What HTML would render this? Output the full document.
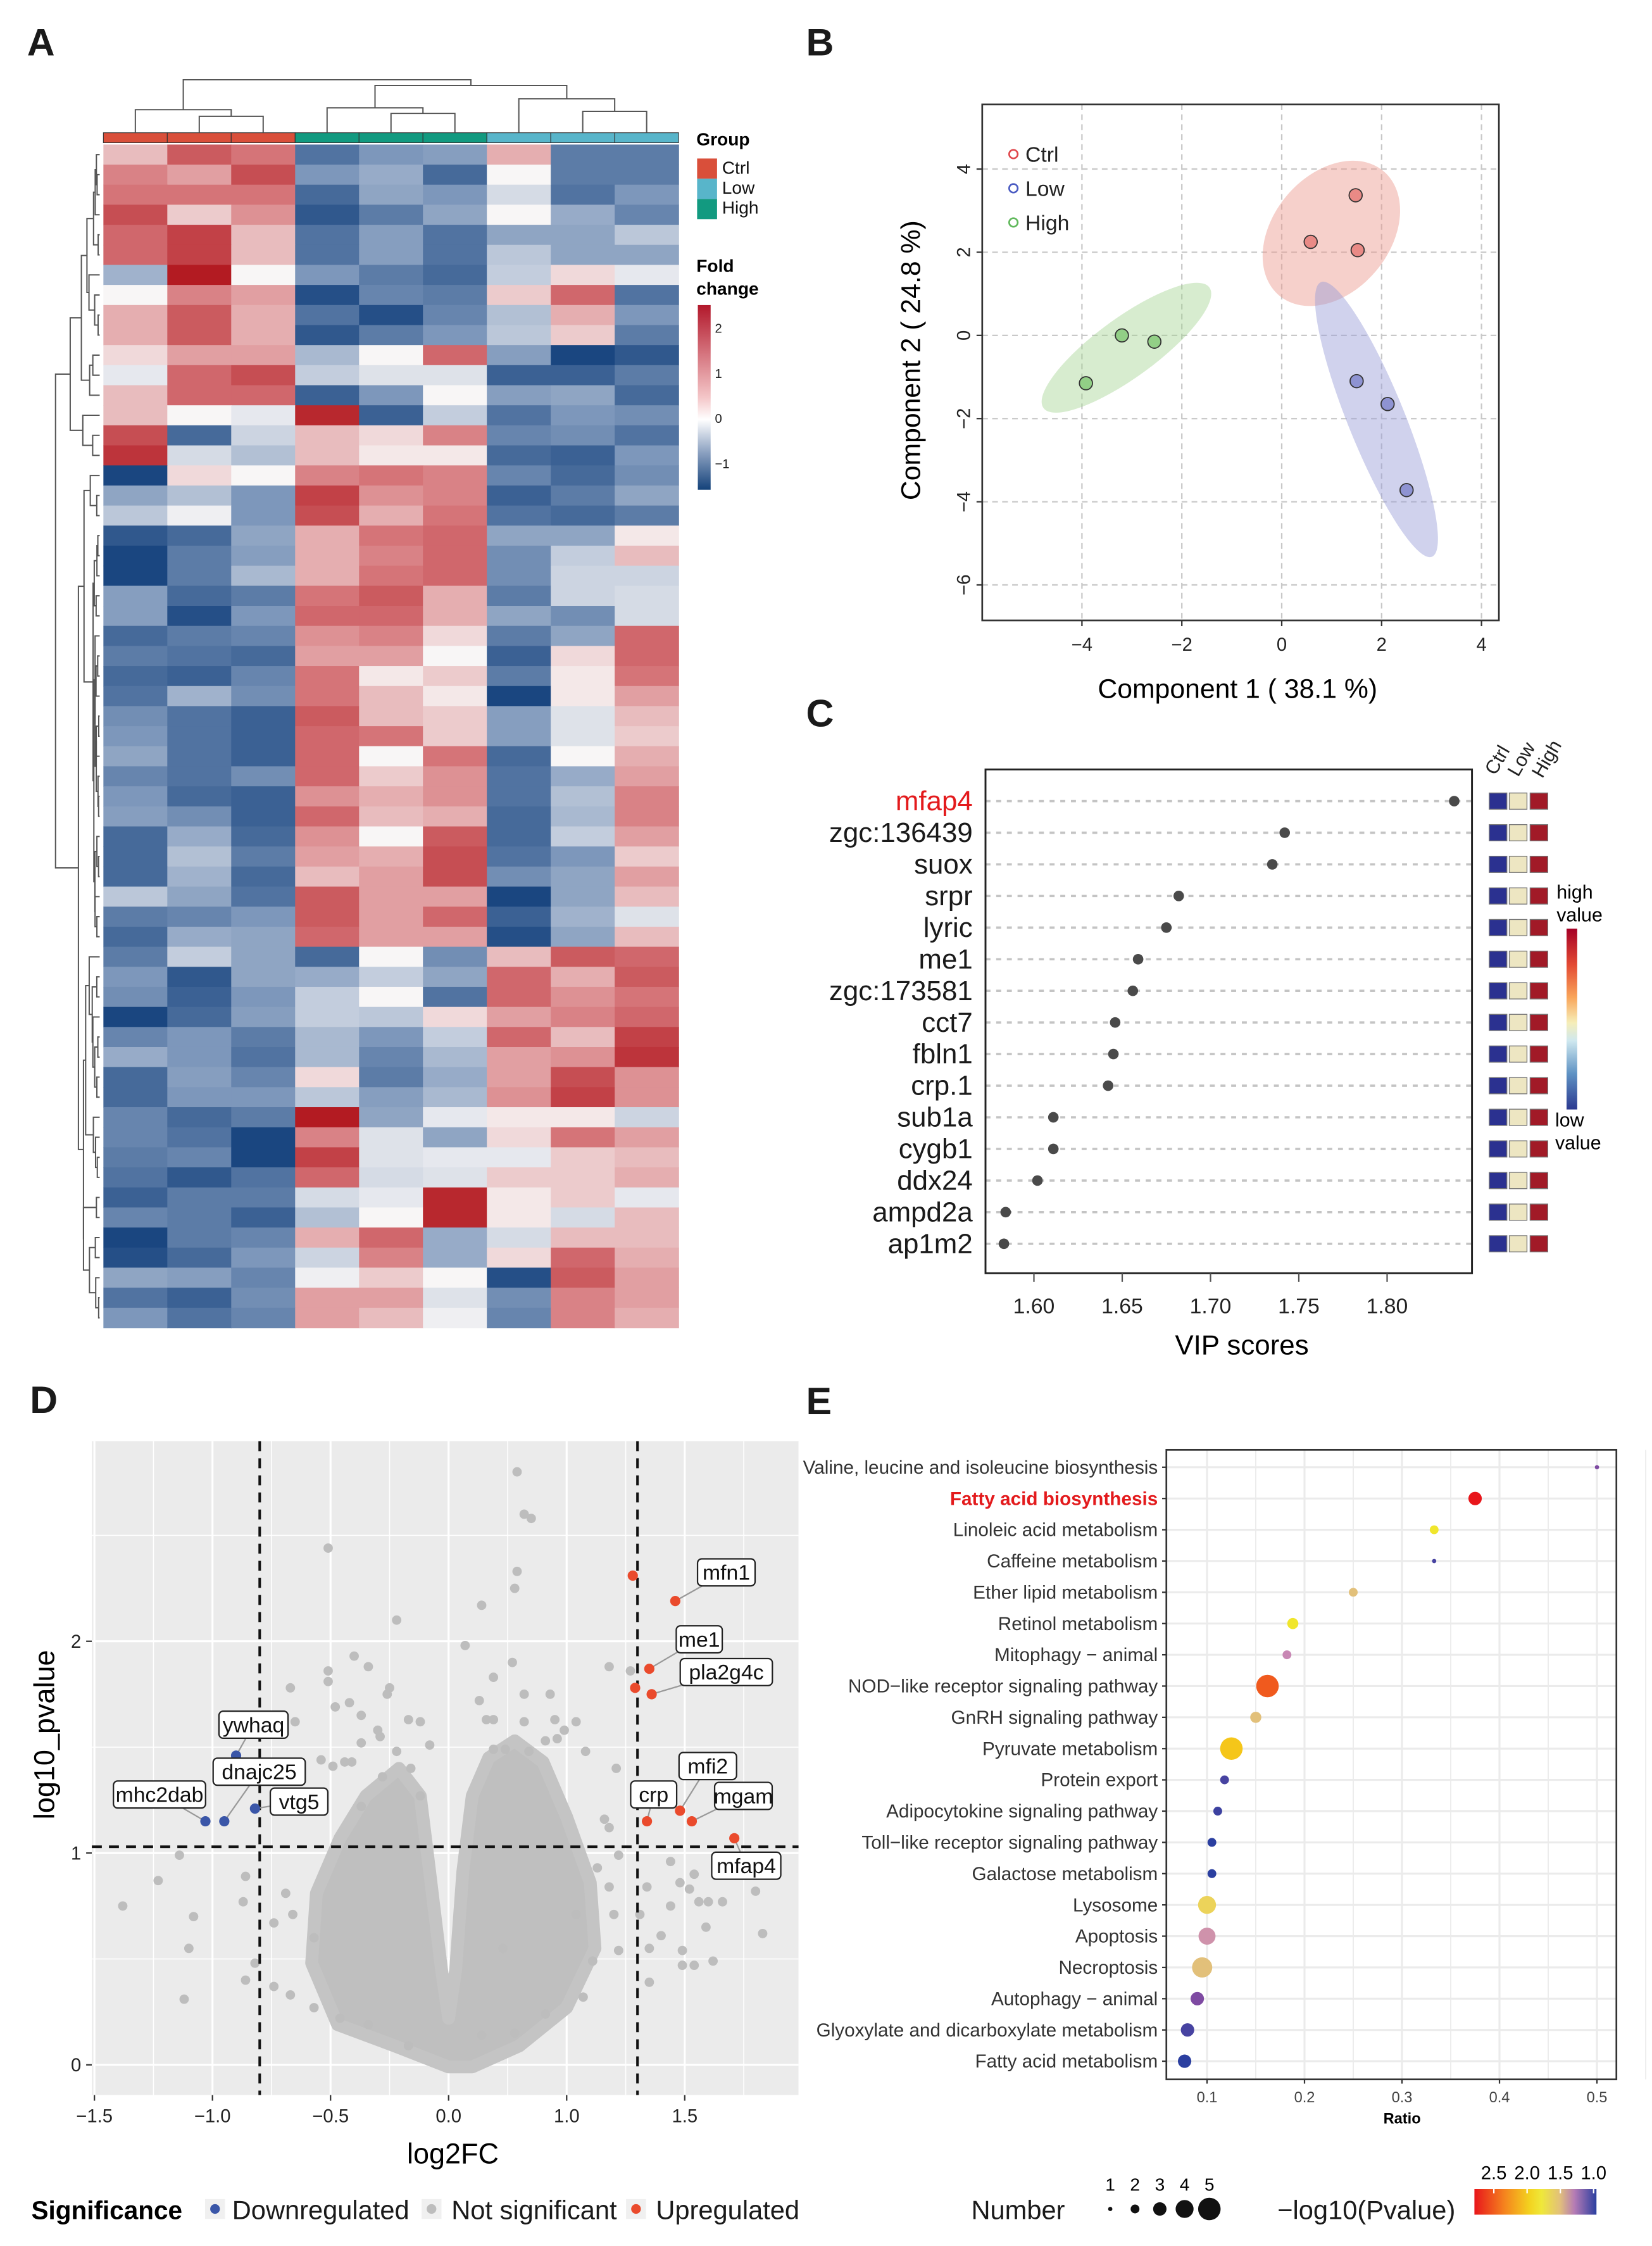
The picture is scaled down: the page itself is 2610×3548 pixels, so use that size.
<!DOCTYPE html>
<html><head><meta charset="utf-8">
<style>
html,body{margin:0;padding:0;background:#fff;}
svg{display:block;font-family:"Liberation Sans",Arial,sans-serif;}
</style></head>
<body>
<svg id="fig" xmlns="http://www.w3.org/2000/svg" width="2610" height="3548" viewBox="0 0 1160 1577" preserveAspectRatio="none">
<defs>
<linearGradient id="fcGrad" x1="0" y1="0" x2="0" y2="1">
<stop offset="0" stop-color="#b2182b"/><stop offset="0.5" stop-color="#f4c6c8"/><stop offset="0.62" stop-color="#ffffff"/><stop offset="0.8" stop-color="#8aa0c0"/><stop offset="1" stop-color="#14427a"/>
</linearGradient>
<linearGradient id="vipGrad" x1="0" y1="0" x2="0" y2="1">
<stop offset="0" stop-color="#a50026"/><stop offset="0.2" stop-color="#e34a33"/><stop offset="0.38" stop-color="#f9a55a"/><stop offset="0.52" stop-color="#f6eeb8"/><stop offset="0.62" stop-color="#cfe8ef"/><stop offset="0.8" stop-color="#5f93c4"/><stop offset="1" stop-color="#2b3990"/>
</linearGradient>
<linearGradient id="pGrad" x1="0" y1="0" x2="1" y2="0">
<stop offset="0" stop-color="#e8161b"/><stop offset="0.25" stop-color="#f5851e"/><stop offset="0.45" stop-color="#f3d21f"/><stop offset="0.55" stop-color="#efe83a"/><stop offset="0.7" stop-color="#e2c07a"/><stop offset="0.82" stop-color="#b57bb5"/><stop offset="1" stop-color="#2b3fa0"/>
</linearGradient>
</defs>
<g id="panelA"></g>
<g id="panelB"></g>
<g id="panelC"></g>
<g id="panelD"></g>
<g id="panelE"></g>
</svg>
<script>
// ---------------- DATA ----------------
const heatGroups = ["Ctrl","Ctrl","Ctrl","High","High","High","Low","Low","Low"];
const heatValues = [
[1.3,2.0,1.8,-0.9,-0.5,-0.4,1.4,-0.8,-0.8],
[1.7,1.5,2.1,-0.5,-0.2,-1.0,0.9,-0.8,-0.8],
[1.8,1.8,1.8,-1.0,-0.3,-0.5,0.5,-0.9,-0.5],
[2.1,1.2,1.6,-1.2,-0.8,-0.3,0.9,-0.2,-0.7],
[1.9,2.2,1.3,-0.9,-0.4,-0.9,-0.3,-0.3,0.2],
[1.9,2.2,1.3,-0.9,-0.4,-0.9,0.2,-0.3,-0.3],
[-0.1,2.5,0.9,-0.5,-0.8,-1.0,0.3,1.1,0.7],
[0.9,1.7,1.5,-1.3,-0.7,-0.8,1.2,1.9,-0.9],
[1.4,2.0,1.4,-0.9,-1.3,-0.7,0.1,1.4,-0.5],
[1.4,2.0,1.4,-1.2,-0.8,-0.5,0.2,1.2,-0.8],
[1.1,1.5,1.5,0.0,0.9,1.9,-0.4,-1.4,-1.2],
[0.7,1.9,2.1,0.3,0.6,0.6,-1.1,-1.1,-0.8],
[1.3,1.9,1.9,-1.1,-0.5,0.9,-0.4,-0.3,-1.0],
[1.3,0.9,0.7,2.4,-1.1,0.3,-0.9,-0.5,-0.6],
[2.1,-1.0,0.4,1.3,1.1,1.7,-0.7,-0.6,-0.9],
[2.3,0.5,0.1,1.3,1.0,1.0,-1.0,-1.1,-0.5],
[-1.4,1.1,0.9,1.7,1.8,1.7,-0.7,-1.0,-0.6],
[-0.3,0.1,-0.5,2.2,1.6,1.7,-1.1,-0.8,-0.3],
[0.2,0.8,-0.5,2.1,1.4,1.8,-0.9,-1.0,-0.8],
[-1.2,-1.0,-0.3,1.4,1.8,1.9,-0.3,-0.3,1.0],
[-1.4,-0.8,-0.4,1.4,1.7,1.9,-0.6,0.3,1.3],
[-1.4,-0.8,0.0,1.4,1.8,1.9,-0.6,0.4,0.4],
[-0.4,-1.0,-0.8,1.8,2.0,1.4,-0.8,0.4,0.5],
[-0.4,-1.3,-0.5,1.9,1.9,1.4,-0.3,-0.6,0.5],
[-1.0,-0.8,-0.7,1.6,1.7,1.1,-0.8,-0.3,1.9],
[-0.8,-0.9,-1.0,1.5,1.5,0.9,-1.1,1.1,1.9],
[-1.0,-1.1,-0.7,1.8,1.0,1.2,-0.8,1.0,1.8],
[-0.9,-0.1,-0.6,1.8,1.3,1.0,-1.5,1.0,1.5],
[-0.6,-0.9,-1.1,2.0,1.3,1.2,-0.4,0.6,1.3],
[-0.5,-0.9,-1.1,1.9,1.8,1.2,-0.4,0.6,1.2],
[-0.3,-0.9,-1.1,1.9,0.9,1.8,-1.0,0.9,1.4],
[-0.7,-0.9,-0.6,1.9,1.2,1.6,-0.9,-0.2,1.5],
[-0.5,-1.0,-1.1,1.6,1.4,1.6,-0.9,0.1,1.7],
[-0.4,-0.6,-1.1,1.9,1.3,1.4,-1.0,0.0,1.7],
[-1.0,-0.2,-1.0,1.6,0.9,2.0,-1.0,0.3,1.5],
[-1.0,0.1,-0.8,1.5,1.4,2.1,-0.9,-0.5,1.2],
[-1.0,-0.1,-1.0,1.3,1.5,2.1,-0.6,-0.3,1.5],
[0.2,-0.3,-0.9,2.0,1.5,1.5,-1.5,-0.3,1.3],
[-0.8,-0.7,-0.5,2.0,1.5,1.9,-1.1,-0.1,0.6],
[-1.0,-0.2,-0.3,1.9,1.5,1.5,-1.3,-0.3,1.3],
[-0.8,0.3,-0.3,-1.0,0.9,-0.6,1.3,2.0,1.9],
[-0.5,-1.2,-0.3,-0.2,0.3,-0.3,1.9,1.4,2.0],
[-0.6,-1.1,-0.5,0.3,0.9,-0.9,1.9,1.6,1.8],
[-1.4,-1.0,-0.4,0.3,0.2,1.1,1.5,1.7,1.9],
[-0.7,-0.5,-0.8,0.0,-0.5,0.3,1.9,1.3,2.2],
[-0.2,-0.5,-0.9,0.0,-0.7,0.0,1.5,1.6,2.3],
[-1.0,-0.4,-0.7,1.1,-0.8,-0.2,1.5,2.1,1.6],
[-1.0,-0.5,-0.5,0.2,-0.4,0.0,1.6,2.2,1.6],
[-0.7,-1.0,-0.8,2.5,-0.3,0.7,1.0,1.0,0.4],
[-0.7,-0.9,-1.4,1.7,0.6,-0.3,1.1,1.8,1.5],
[-0.8,-0.7,-1.4,2.2,0.6,0.7,0.7,1.2,1.3],
[-0.9,-1.2,-0.9,1.9,0.5,0.6,1.2,1.2,1.4],
[-1.1,-0.8,-0.8,0.5,0.7,2.4,1.0,1.2,0.7],
[-0.7,-0.8,-1.1,0.1,0.9,2.4,1.0,0.5,1.3],
[-1.4,-0.8,-0.7,1.4,1.9,-0.2,0.5,1.3,1.3],
[-1.3,-1.0,-0.5,0.4,1.7,-0.2,1.1,1.9,1.4],
[-0.3,-0.4,-0.7,0.8,1.2,0.9,-1.3,2.0,1.5],
[-0.9,-1.1,-0.6,1.5,1.5,0.6,-0.6,1.7,1.5],
[-0.5,-0.9,-0.7,1.5,1.3,0.8,-0.7,1.7,1.4]
];
const fcTickLabels = ["2","1","0","\u22121"];
const fcTickValues = [2,1,0,-1];

const pcaGroups = ["Ctrl","Ctrl","Ctrl","Low","Low","Low","High","High","High"];
const pcaX = [1.48,0.58,1.52,1.50,2.12,2.50,-3.20,-2.55,-3.92];
const pcaY = [3.37,2.25,2.05,-1.10,-1.65,-3.72,0.00,-0.15,-1.15];
const pcaXTicks = [-4,-2,0,2,4];
const pcaYTicks = [4,2,0,-2,-4,-6];

const vipGenes = ["mfap4","zgc:136439","suox","srpr","lyric","me1","zgc:173581","cct7","fbln1","crp.1","sub1a","cygb1","ddx24","ampd2a","ap1m2"];
const vipScores = [1.838,1.742,1.735,1.682,1.675,1.659,1.656,1.646,1.645,1.642,1.611,1.611,1.602,1.584,1.583];
const vipTicks = [1.60,1.65,1.70,1.75,1.80];
const vipTickLabels = ["1.60","1.65","1.70","1.75","1.80"];

const volUpX = [0.78,0.96,0.85,0.79,0.86,0.98,0.84,1.03,1.21];
const volUpY = [2.31,2.19,1.87,1.78,1.75,1.20,1.15,1.15,1.07];
const volUpLabels = ["","mfn1","me1","","pla2g4c","mfi2","crp","mgam","mfap4"];
const volDownX = [-0.90,-0.95,-1.03,-0.82];
const volDownY = [1.46,1.15,1.15,1.21];
const volDownLabels = ["ywhaq","dnajc25","mhc2dab","vtg5"];
const volNsX = [0.29,0.32,0.35,-0.51,0.29,0.28,0.14,-0.22,0.07,0.27,0.19,0.68,0.77,-0.40,-0.34,-0.51,-0.51,-0.67,-0.25,-0.26,0.32,0.43,-0.42,-0.48,0.13,-0.65,-0.37,-0.17,-0.12,0.16,0.19,0.32,0.45,0.54,0.49,-0.30,-0.29,-0.37,-0.08,0.41,0.46,-0.54,-0.49,-0.44,-0.41,-0.22,-0.16,0.19,0.24,0.34,0.58,0.71,-0.28,-0.12,-0.37,0.66,0.68,-1.14,-1.23,-1.38,-1.08,-1.10,-1.12,-0.87,-0.86,-0.69,-0.66,-0.74,-0.57,-0.82,-0.86,-0.74,-0.67,-0.57,-0.46,0.85,0.90,0.85,0.94,0.98,1.04,1.02,1.06,1.10,1.16,1.30,1.33,1.09,0.94,0.99,0.99,1.04,1.12,0.84,0.81,0.72,0.63,0.68,0.70,0.72,0.61,0.57,0.41,0.28,0.14,-0.34,-0.17,0.23,0.54];
const volNsY = [2.80,2.60,2.58,2.44,2.33,2.25,2.17,2.10,1.98,1.90,1.83,1.88,1.86,1.93,1.88,1.86,1.81,1.78,1.78,1.75,1.75,1.75,1.71,1.69,1.72,1.62,1.65,1.63,1.62,1.63,1.63,1.62,1.63,1.62,1.58,1.58,1.55,1.52,1.51,1.53,1.54,1.44,1.41,1.43,1.43,1.48,1.40,1.49,1.49,1.48,1.48,1.40,1.36,1.27,1.22,1.16,1.12,0.99,0.87,0.75,0.70,0.55,0.31,0.77,0.89,0.81,0.71,0.67,0.60,0.48,0.40,0.37,0.33,0.27,0.22,0.39,0.61,0.55,0.96,0.86,0.90,0.83,0.77,0.77,0.77,0.82,0.62,0.65,0.75,0.54,0.47,0.47,0.49,0.84,0.71,0.99,0.93,0.84,0.71,0.54,0.49,0.32,0.24,0.15,0.14,0.19,0.09,0.55,0.71];
const volCloudX = [0,-0.23,-0.47,-0.58,-0.56,-0.46,-0.35,-0.21,-0.12,-0.08,-0.03,0,0.03,0.06,0.10,0.17,0.28,0.40,0.50,0.60,0.62,0.50,0.30,0.10];
const volCloudY = [-0.01,0.09,0.19,0.48,0.81,1.07,1.27,1.40,1.27,0.91,0.45,0.22,0.45,0.91,1.27,1.45,1.53,1.43,1.17,0.86,0.55,0.27,0.09,-0.01];
const volXTicks = [-1.5,-1.0,-0.5,0,0.5,1.0];
const volXTickLabels = ["\u22121.5","\u22121.0","\u22120.5","0.0","1.0","1.5"];
const volYTicks = [0,1,2];
const volFcCut = [-0.8,0.8];
const volPCut = 1.03;

const keggTerms = ["Valine, leucine and isoleucine biosynthesis","Fatty acid biosynthesis","Linoleic acid metabolism","Caffeine metabolism","Ether lipid metabolism","Retinol metabolism","Mitophagy \u2212 animal","NOD\u2212like receptor signaling pathway","GnRH signaling pathway","Pyruvate metabolism","Protein export","Adipocytokine signaling pathway","Toll\u2212like receptor signaling pathway","Galactose metabolism","Lysosome","Apoptosis","Necroptosis","Autophagy \u2212 animal","Glyoxylate and dicarboxylate metabolism","Fatty acid metabolism"];
const keggRatio = [0.5,0.375,0.333,0.333,0.25,0.188,0.182,0.162,0.15,0.125,0.118,0.111,0.105,0.105,0.1,0.1,0.095,0.09,0.08,0.077];
const keggNumber = [1,3,2,1,2,2.5,2,5,2.5,5,2,2,2,2,4,3.8,4.5,3,3,3];
const keggLogP = [1.15,2.7,1.85,1.05,1.55,1.85,1.3,2.3,1.55,2.0,1.05,1.03,1.0,1.0,1.7,1.35,1.55,1.15,1.05,1.0];
const keggXTicks = [0.1,0.2,0.3,0.4,0.5];
const numLegend = [1,2,3,4,5];
const pLegendTicks = [2.5,2.0,1.5,1.0];

// ---------------- HELPERS ----------------
const NS = "http://www.w3.org/2000/svg";
function mk(parent, tag, attrs, text){
  const el = document.createElementNS(NS, tag);
  for (const k in attrs) el.setAttribute(k, attrs[k]);
  if (text !== undefined) el.textContent = text;
  parent.appendChild(el);
  return el;
}
function lerpColor(stops, v){
  if (v <= stops[0][0]) return stops[0][1];
  if (v >= stops[stops.length-1][0]) return stops[stops.length-1][1];
  for (let i=0;i<stops.length-1;i++){
    const a=stops[i], b=stops[i+1];
    if (v>=a[0] && v<=b[0]){
      const t=(v-a[0])/(b[0]-a[0]);
      const ca=[1,3,5].map(j=>parseInt(a[1].substr(j,2),16));
      const cb=[1,3,5].map(j=>parseInt(b[1].substr(j,2),16));
      return "rgb("+ca.map((c,j)=>Math.round(c+(cb[j]-c)*t)).join(",")+")";
    }
  }
}
function letter(parent, x, y, s){
  const t = mk(parent,"text",{x:x,y:y,"font-size":27,"font-weight":"bold",fill:"#1a1a1a"},s);
  
  
}

// ---------------- PANEL A ----------------
(function(){
  const g = document.getElementById("panelA");
  letter(g, 19, 39, "A");
  const hx0=72.6, hx1=476.5, hy0=101.5, hy1=932.3;
  const nC = heatGroups.length, nR = heatValues.length;
  const cw=(hx1-hx0)/nC, rh=(hy1-hy0)/nR;
  const stops=[[-1.4,"#1a4680"],[-0.5,"#7d97bb"],[0.9,"#f8f6f6"],[1.8,"#d57478"],[2.5,"#b31b22"]];
  const grpColor={Ctrl:"#d94f3a",High:"#129a80",Low:"#58b5ca"};
  const cells = mk(g,"g",{});
  
  
  heatValues.forEach((row,r)=>{
    row.forEach((v,c)=>{
      const el = mk(cells,"rect",{x:hx0+c*cw,y:hy0+r*rh,width:cw+0.3,height:rh+0.3,fill:lerpColor(stops,v)});
      
      
    });
  });
  heatGroups.forEach((gr,c)=>{
    const el = mk(g,"rect",{x:hx0+c*cw,y:93.2,width:cw,height:7,fill:grpColor[gr],stroke:"#333","stroke-width":0.5});
    
    
  });
  const cx = i => hx0+(i+0.5)*cw;
  const td = mk(g,"g",{stroke:"#555","stroke-width":0.9,fill:"none"});
  
  
  function link(x1,y1,x2,y2,h){ mk(td,"path",{d:`M${x1},${y1}V${h}H${x2}V${y2}`}); }
  const leafY=93;
  link(cx(1),leafY,cx(2),leafY,81.7);
  link(cx(0),leafY,(cx(1)+cx(2))/2,81.7,77);
  link(cx(4),leafY,cx(5),leafY,79.6);
  link(cx(3),leafY,(cx(4)+cx(5))/2,79.6,75.7);
  link(cx(7),leafY,cx(8),leafY,78.2);
  link(cx(6),leafY,(cx(7)+cx(8))/2,78.2,69.4);
  const hMid=(cx(3)+(cx(4)+cx(5))/2)/2, lMid=(cx(6)+(cx(7)+cx(8))/2)/2;
  link(hMid,75.7,lMid,69.4,60);
  const cMid=(cx(0)+(cx(1)+cx(2))/2)/2;
  link(cMid,77,(hMid+lMid)/2,60,56);
  let clusters = heatValues.map((row,i)=>({members:[i],y:hy0+(i+0.5)*rh,h:0}));
  function dist(a,b){
    let s=0,n=0;
    a.members.forEach(i=>b.members.forEach(j=>{let d=0;for(let k=0;k<nC;k++){const t=heatValues[i][k]-heatValues[j][k];d+=t*t;}s+=Math.sqrt(d);n++;}));
    return s/n;
  }
  const merges=[];
  while(clusters.length>1){
    let best=0,bd=1e9;
    for(let i=0;i<clusters.length-1;i++){const d=dist(clusters[i],clusters[i+1]);if(d<bd){bd=d;best=i;}}
    const a=clusters[best],b=clusters[best+1];
    const h=Math.max(bd,a.h,b.h)+0.001;
    const m={members:a.members.concat(b.members),y:(a.y+b.y)/2,h:h,a:a,b:b};
    merges.push(m);
    clusters.splice(best,2,m);
  }
  const hmax=clusters[0].h;
  const hxp = h => 70 - Math.pow(h/hmax,1.6)*31;
  const ld = mk(g,"g",{stroke:"#555","stroke-width":0.9,fill:"none"});
  
  
  merges.forEach(m=>{
    const x=hxp(m.h);
    mk(ld,"path",{d:`M${hxp(m.a.h)},${m.a.y}H${x}V${m.b.y}H${hxp(m.b.h)}`});
  });
  const lg = mk(g,"g",{});
  
  
  mk(lg,"text",{x:489,y:102,"font-size":12.5,"font-weight":"bold"},"Group");
  [["Ctrl","#d94f3a"],["Low","#58b5ca"],["High","#129a80"]].forEach((e,i)=>{
    const r=mk(lg,"rect",{x:489.5,y:111.3+i*14.2,width:14,height:14.2,fill:e[1]});
    
    
    mk(lg,"text",{x:507,y:122+i*14,"font-size":12.5,fill:"#111"},e[0]);
  });
  mk(lg,"text",{x:489,y:191,"font-size":12.5,"font-weight":"bold"},"Fold");
  mk(lg,"text",{x:489,y:207,"font-size":12.5,"font-weight":"bold"},"change");
  const cb=mk(lg,"rect",{x:490,y:214.2,width:9,height:129.7,fill:"url(#fcGrad)"});
  
  
  fcTickValues.forEach((v,i)=>{
    mk(lg,"text",{x:502,y:294-31.7*v+3,"font-size":9,fill:"#222"},fcTickLabels[i]);
  });
})();

// ---------------- PANEL B ----------------
(function(){
  const g=document.getElementById("panelB");
  letter(g,566,39,"B");
  const bx0=689.7,bx1=1052.5,by0=73.3,by1=435.6;
  const sx=v=>900+v*35.07, sy=v=>235.5-v*29.2;
  const grid=mk(g,"g",{stroke:"#c8c8c8","stroke-width":1,"stroke-dasharray":"4,3"});
  
  
  pcaXTicks.forEach(v=>mk(grid,"line",{x1:sx(v),x2:sx(v),y1:by0,y2:by1}));
  pcaYTicks.forEach(v=>mk(grid,"line",{x1:bx0,x2:bx1,y1:sy(v),y2:sy(v)}));
  const ellFill={Ctrl:"rgba(236,150,140,0.45)",Low:"rgba(150,155,215,0.45)",High:"rgba(160,210,140,0.42)"};
  const ellSize={Ctrl:[57,41,-50],Low:[104,20,68],High:[72,21,-36]};
  ["Ctrl","Low","High"].forEach(gr=>{
    let mx=0,my=0,n=0;
    pcaGroups.forEach((p,i)=>{if(p===gr){mx+=pcaX[i];my+=pcaY[i];n++;}});
    mx/=n;my/=n;
    let ccx=sx(mx),ccy=sy(my);
    if(gr==="Ctrl"){ccx+= -7; ccy+=3;}
    if(gr==="Low"){ccx+= -5; ccy+= -4;}
    if(gr==="High"){ccx+= 4; ccy+= -4;}
    const s=ellSize[gr];
    const e=mk(g,"ellipse",{cx:ccx,cy:ccy,rx:s[0],ry:s[1],fill:ellFill[gr],transform:`rotate(${s[2]},${ccx},${ccy})`});
    
    
  });
  const ptFill={Ctrl:"#e98a86",Low:"#8e93d2",High:"#92cf86"};
  pcaX.forEach((x,i)=>{
    const c=mk(g,"circle",{cx:sx(x),cy:sy(pcaY[i]),r:4.6,fill:ptFill[pcaGroups[i]],stroke:"#333","stroke-width":0.8});
    
    
  });
  mk(g,"rect",{x:bx0,y:by0,width:bx1-bx0,height:by1-by0,fill:"none",stroke:"#333","stroke-width":1.2});
  pcaXTicks.forEach(v=>{
    mk(g,"line",{x1:sx(v),x2:sx(v),y1:by1,y2:by1+4,stroke:"#333"});
    mk(g,"text",{x:sx(v),y:457,"font-size":13,"text-anchor":"middle",fill:"#222"},v<0?"\u2212"+(-v):String(v));
  });
  pcaYTicks.forEach(v=>{
    mk(g,"line",{x1:bx0-4,x2:bx0,y1:sy(v),y2:sy(v),stroke:"#333"});
    mk(g,"text",{x:0,y:0,"font-size":13,"text-anchor":"middle",fill:"#222",transform:`translate(681,${sy(v)}) rotate(-90)`},v<0?"\u2212"+(-v):String(v));
  });
  const xt=mk(g,"text",{x:869,y:490,"font-size":19,"text-anchor":"middle"},"Component 1 ( 38.1 %)");
  
  
  const yt=mk(g,"text",{x:0,y:0,"font-size":19,"text-anchor":"middle",transform:"translate(646,253) rotate(-90)"},"Component 2 ( 24.8 %)");
  
  
  [["Ctrl","#e0474c"],["Low","#4a5bc2"],["High","#5fb85a"]].forEach((e,i)=>{
    const c=mk(g,"circle",{cx:711.6,cy:108.2+i*24,r:3,fill:"none",stroke:e[1],"stroke-width":1.2});
    
    
    mk(g,"text",{x:720,y:113.5+i*24,"font-size":15,fill:"#222"},e[0]);
  });
})();

// ---------------- PANEL C ----------------
(function(){
  const g=document.getElementById("panelC");
  letter(g,566,510,"C");
  const bx0=692,bx1=1033.6,by0=540.3,by1=894;
  const sx=v=>726+(v-1.6)*1240, ry=i=>562.5+i*22.2;
  vipGenes.forEach((gn,i)=>{
    mk(g,"line",{x1:bx0,x2:bx1,y1:ry(i),y2:ry(i),stroke:"#c4c4c4","stroke-width":1.6,"stroke-dasharray":"3.5,4"});
    const t=mk(g,"text",{x:683,y:ry(i)+6.5,"font-size":19.5,"text-anchor":"end",fill:i===0?"#e31a1c":"#1a1a1a"},gn);
    
    
    const c=mk(g,"circle",{cx:sx(vipScores[i]),cy:ry(i),r:3.7,fill:"#4a4a4a"});
    
    
    [["#2b3190",1045.7],["#ede6c2",1059.8],["#a11a27",1074.4]].forEach(s=>{
      const r=mk(g,"rect",{x:s[1],y:ry(i)-5.7,width:12.4,height:11.4,fill:s[0],stroke:"#777","stroke-width":0.6});
      
      
    });
  });
  mk(g,"rect",{x:bx0,y:by0,width:bx1-bx0,height:by1-by0,fill:"none",stroke:"#222","stroke-width":1.3});
  vipTicks.forEach((v,i)=>{
    mk(g,"line",{x1:sx(v),x2:sx(v),y1:by1,y2:by1+6,stroke:"#555"});
    mk(g,"text",{x:sx(v),y:922,"font-size":15,"text-anchor":"middle",fill:"#222"},vipTickLabels[i]);
  });
  const xt=mk(g,"text",{x:872,y:951,"font-size":19.5,"text-anchor":"middle"},"VIP scores");
  
  
  [["Ctrl",1050,545],["Low",1066,546],["High",1083,547]].forEach(e=>{
    mk(g,"text",{x:0,y:0,"font-size":13.5,fill:"#222",transform:`translate(${e[1]},${e[2]}) rotate(-60)`},e[0]);
  });
  mk(g,"text",{x:1093,y:631,"font-size":13.5},"high");
  mk(g,"text",{x:1093,y:647,"font-size":13.5},"value");
  const cb=mk(g,"rect",{x:1100,y:652,width:7.5,height:127,fill:"url(#vipGrad)"});
  
  
  mk(g,"text",{x:1092,y:791,"font-size":13.5},"low");
  mk(g,"text",{x:1092,y:807,"font-size":13.5},"value");
})();

// ---------------- PANEL D ----------------
(function(){
  const g=document.getElementById("panelD");
  letter(g,21,992,"D");
  const bx0=64.5,bx1=560.7,by0=1011.9,by1=1471;
  const sx=v=>315+v*165.8, sy=v=>1449.8-v*148.7;
  const bg=mk(g,"rect",{x:bx0,y:by0,width:bx1-bx0,height:by1-by0,fill:"#ebebeb"});
  
  
  for(let v=-1.75;v<=1.3;v+=0.25){
    const major=Math.abs(v*2-Math.round(v*2))<1e-6;
    mk(g,"line",{x1:sx(v),x2:sx(v),y1:by0,y2:by1,stroke:"#fff","stroke-width":major?1.4:0.7});
  }
  [-0.5,0,0.5,1,1.5,2,2.5,3].forEach(v=>{
    if(sy(v)<by0||sy(v)>by1)return;
    mk(g,"line",{x1:bx0,x2:bx1,y1:sy(v),y2:sy(v),stroke:"#fff","stroke-width":Number.isInteger(v)?1.4:0.7});
  });
  const pts=volCloudX.map((x,i)=>sx(x)+","+sy(volCloudY[i])).join(" ");
  const cl=mk(g,"polygon",{points:pts,fill:"#bfbfbf",stroke:"#c4c4c4","stroke-width":9,"stroke-linejoin":"round"});
  
  
  volNsX.forEach((x,i)=>{
    const c=mk(g,"circle",{cx:sx(x),cy:sy(volNsY[i]),r:3.3,fill:"#bdbdbd"});
    
    
  });
  const dl=mk(g,"g",{stroke:"#111","stroke-width":1.8,"stroke-dasharray":"7,5"});
  
  
  volFcCut.forEach(v=>mk(dl,"line",{x1:sx(v),x2:sx(v),y1:by0,y2:by1}));
  mk(dl,"line",{x1:bx0,x2:bx1,y1:sy(volPCut),y2:sy(volPCut)});
  const upBox=[[0,0],[510,1104],[491,1151],[0,0],[510,1174],[497,1240],[459,1260],[522,1261],[524,1310]];
  volUpX.forEach((x,i)=>{
    const px=sx(x),py=sy(volUpY[i]);
    if(volUpLabels[i]){
      const b=upBox[i];
      mk(g,"line",{x1:px,y1:py,x2:b[0],y2:b[1],stroke:"#999","stroke-width":1});
    }
    const c=mk(g,"circle",{cx:px,cy:py,r:3.6,fill:"#ea4a2c"});
    
    
  });
  const dnBox=[[178,1211],[182,1244],[112,1260],[210,1265]];
  volDownX.forEach((x,i)=>{
    const px=sx(x),py=sy(volDownY[i]);
    mk(g,"line",{x1:px,y1:py,x2:dnBox[i][0],y2:dnBox[i][1],stroke:"#999","stroke-width":1});
    const c=mk(g,"circle",{cx:px,cy:py,r:3.6,fill:"#3a56a8"});
    
    
  });
  function label(txt,cx,cy){
    const w=txt.length*8.1+8;
    const r=mk(g,"rect",{x:cx-w/2,y:cy-9.5,width:w,height:19,rx:3,fill:"#fff",stroke:"#222","stroke-width":1});
    
    
    mk(g,"text",{x:cx,y:cy+5.3,"font-size":15,"text-anchor":"middle",fill:"#111"},txt);
  }
  volUpLabels.forEach((l,i)=>{if(l)label(l,upBox[i][0],upBox[i][1]);});
  volDownLabels.forEach((l,i)=>label(l,dnBox[i][0],dnBox[i][1]));
  volXTicks.forEach((v,i)=>{
    mk(g,"line",{x1:sx(v),x2:sx(v),y1:by1,y2:by1+4,stroke:"#333"});
    mk(g,"text",{x:sx(v),y:1490,"font-size":13,"text-anchor":"middle",fill:"#222"},volXTickLabels[i]);
  });
  volYTicks.forEach(v=>{
    mk(g,"line",{x1:bx0-4,x2:bx0,y1:sy(v),y2:sy(v),stroke:"#333"});
    mk(g,"text",{x:57,y:sy(v)+4.5,"font-size":13,"text-anchor":"end",fill:"#222"},String(v));
  });
  const xt=mk(g,"text",{x:318,y:1519,"font-size":20,"text-anchor":"middle"},"log2FC");
  
  
  const yt=mk(g,"text",{x:0,y:0,"font-size":20,"text-anchor":"middle",transform:"translate(38,1218) rotate(-90)"},"log10_pvalue");
  
  
  const lg=mk(g,"g",{});
  
  
  mk(lg,"text",{x:22,y:1558,"font-size":18,"font-weight":"bold"},"Significance");
  [["Downregulated","#3a56a8",151,163],["Not significant","#bdbdbd",303,317],["Upregulated","#ea4a2c",446.6,460.6]].forEach(e=>{
    mk(lg,"rect",{x:e[2]-7,y:1544,width:14,height:14,fill:"#f0f0f0"});
    const c=mk(lg,"circle",{cx:e[2],cy:1551,r:3.4,fill:e[1]});
    
    
    mk(lg,"text",{x:e[3],y:1558,"font-size":18.5,fill:"#1a1a1a"},e[0]);
  });
})();

// ---------------- PANEL E ----------------
(function(){
  const g=document.getElementById("panelE");
  letter(g,566,993,"E");
  const bx0=819,bx1=1135,by0=1018,by1=1460;
  const sx=v=>779.1+v*684.5, ry=i=>1030.2+i*21.95;
  const pStops=[[1.0,"#2b3fa0"],[1.15,"#7e4aa2"],[1.3,"#c887b4"],[1.45,"#dca79a"],[1.55,"#e2c07a"],[1.7,"#ecd35a"],[1.85,"#f0e62c"],[2.0,"#f5c619"],[2.3,"#f05a1e"],[2.7,"#e8161b"]];
  for(let v=0.1;v<=0.56;v+=0.05){
    const major=Math.abs(v*10-Math.round(v*10))<1e-6;
    mk(g,"line",{x1:sx(v),x2:sx(v),y1:by0,y2:by1,stroke:"#ebebeb","stroke-width":major?1.4:0.8});
  }
  keggTerms.forEach((t,i)=>{
    mk(g,"line",{x1:bx0,x2:bx1,y1:ry(i),y2:ry(i),stroke:"#ebebeb","stroke-width":1.4});
    mk(g,"line",{x1:bx0-3,x2:bx0,y1:ry(i),y2:ry(i),stroke:"#333"});
    const lb=mk(g,"text",{x:813,y:ry(i)+4.5,"font-size":13.2,"text-anchor":"end",fill:i===1?"#e31a1c":"#333","font-weight":i===1?"bold":"normal"},t);
    
    
  });
  const numR=n=>1.5+(n-1)*1.6;
  keggTerms.forEach((t,i)=>{
    const c=mk(g,"circle",{cx:sx(keggRatio[i]),cy:ry(i),r:numR(keggNumber[i]),fill:lerpColor(pStops,keggLogP[i])});
    
    
  });
  mk(g,"rect",{x:bx0,y:by0,width:bx1-bx0,height:by1-by0,fill:"none",stroke:"#333","stroke-width":1.2});
  keggXTicks.forEach(v=>{
    mk(g,"line",{x1:sx(v),x2:sx(v),y1:by1,y2:by1+3,stroke:"#333"});
    mk(g,"text",{x:sx(v),y:1476,"font-size":10.5,"text-anchor":"middle",fill:"#444"},String(v));
  });
  const xt=mk(g,"text",{x:984.5,y:1491,"font-size":10.5,"font-weight":"bold","text-anchor":"middle"},"Ratio");
  
  
  const lg=mk(g,"g",{});
  
  
  mk(lg,"text",{x:682,y:1558,"font-size":18.5,fill:"#1a1a1a"},"Number");
  numLegend.forEach((n,i)=>{
    const x=779.6+i*17.4;
    const c=mk(lg,"circle",{cx:x,cy:1551,r:numR(n),fill:"#111"});
    
    
    mk(lg,"text",{x:x,y:1538,"font-size":12.5,"text-anchor":"middle"},String(n));
  });
  mk(lg,"text",{x:897,y:1558,"font-size":18.5,fill:"#1a1a1a"},"\u2212log10(Pvalue)");
  const cb=mk(lg,"rect",{x:1035.3,y:1537,width:85.7,height:18,fill:"url(#pGrad)"});
  
  
  pLegendTicks.forEach(v=>{
    const x=1119-(v-1.0)*46.7;
    mk(lg,"text",{x:x,y:1530,"font-size":13,"text-anchor":"middle"},v.toFixed(1));
    mk(lg,"line",{x1:x,x2:x,y1:1537,y2:1540,stroke:"#fff"});
  });
})();
</script>
</body></html>
